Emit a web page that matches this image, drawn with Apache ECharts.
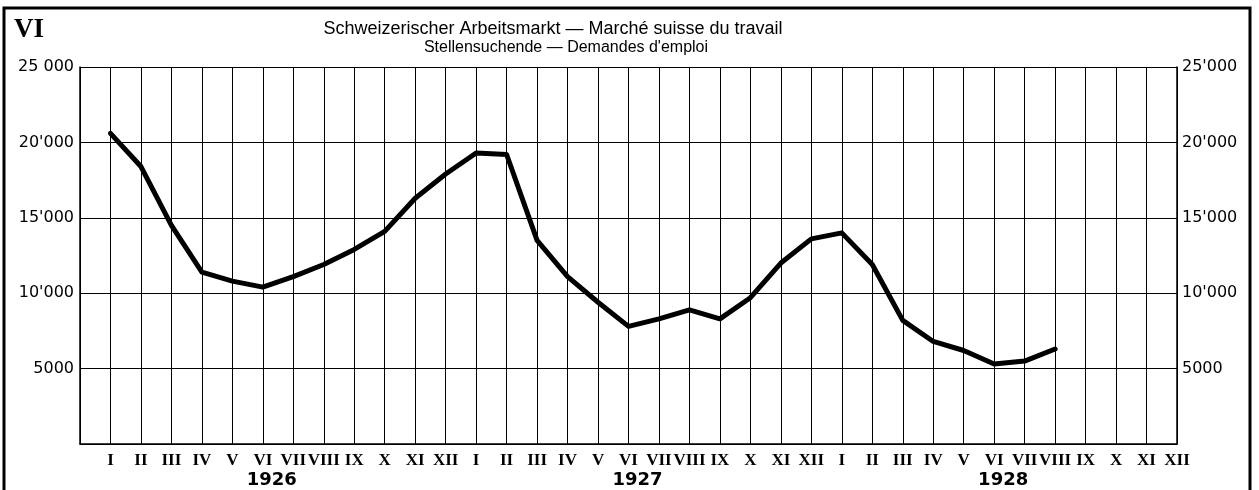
<!DOCTYPE html>
<html><head><meta charset="utf-8">
<script src="https://cdn.jsdelivr.net/npm/echarts@6/dist/echarts.min.js"></script>
<style>html,body{margin:0;padding:0;background:#fff}#c{width:1259px;height:490px}</style>
</head><body><div id="c"></div>
<script>
const months = ['I','II','III','IV','V','VI','VII','VIII','IX','X','XI','XII'];
const years = ['1926','1927','1928'];
const values1926 = [20600, 18400, 14500, 11400, 10800, 10400, 11100, 11900, 12900, 14100, 16300, 17900];
const values1927 = [19300, 19200, 13500, 11100, 9400, 7800, 8300, 8900, 8300, 9700, 12000, 13600];
const values1928 = [14000, 11900, 8200, 6800, 6200, 5300, 5500, 6300];
const leftTickLabels = ['', '5000', "10'000", "15'000", "20'000", '25 000'];
const rightTickLabels = ['', '5000', "10'000", "15'000", "20'000", "25'000"];
const titleText = 'Schweizerischer Arbeitsmarkt \u2014 Marché suisse du travail';
const subtitleText = "Stellensuchende \u2014 Demandes d'emploi";
const plateLabel = 'VI';

const categories = [''];
years.forEach(() => months.forEach(m => categories.push(m)));
const seriesData = [null].concat(values1926, values1927, values1928);

const chart = echarts.init(document.getElementById('c'), null, {renderer: 'canvas'});
const yLabelStyle = {fontFamily: 'DejaVu Sans', fontSize: 16, color: '#000', verticalAlign: 'middle', padding: [0, 0, 8, 0]};
chart.setOption({
  backgroundColor: '#fff',
  animation: false,
  title: [
    {text: titleText, left: 548, top: 15, textAlign: 'center',
     textStyle: {fontFamily: 'Liberation Sans', fontSize: 18, fontWeight: 'normal', color: '#000'}},
    {text: subtitleText, left: 561, top: 35, textAlign: 'center',
     textStyle: {fontFamily: 'Liberation Sans', fontSize: 16, fontWeight: 'normal', color: '#000'}}
  ],
  graphic: [
    {type: 'rect', shape: {x: 4, y: 8, width: 1246, height: 520}, style: {fill: 'none', stroke: '#000', lineWidth: 3}, silent: true},
    {type: 'text', left: 14, top: 17, style: {text: plateLabel, font: 'bold 27px "Liberation Serif"', fill: '#000'}}
  ],
  grid: {left: 80, right: 82, top: 67, bottom: 46, containLabel: false},
  xAxis: {
    type: 'category', data: categories, boundaryGap: false,
    axisLine: {show: true, lineStyle: {color: '#000', width: 1.5}},
    axisTick: {show: false},
    splitLine: {show: true, lineStyle: {color: '#000', width: 1}},
    axisLabel: {
      interval: 0, hideOverlap: false, margin: 8,
      formatter: (value, index) => {
        if (index === 0) return '';
        const mi = (index - 1) % 12, yi = Math.floor((index - 1) / 12);
        return mi === 5 ? '{m|' + value + '}\n{y|' + years[yi] + '}' : '{m|' + value + '}';
      },
      rich: {
        m: {fontFamily: 'Liberation Serif', fontWeight: 'bold', fontSize: 17, color: '#000', lineHeight: 18},
        y: {fontFamily: 'DejaVu Sans', fontWeight: 'bold', fontSize: 18, color: '#000', lineHeight: 21, padding: [0, 0, 0, 18]}
      }
    }
  },
  yAxis: [
    {type: 'value', min: 0, max: 25000, interval: 5000, position: 'left',
     axisLine: {show: true, lineStyle: {color: '#000', width: 1.5}}, axisTick: {show: false},
     splitLine: {show: true, lineStyle: {color: '#000', width: 1}},
     axisLabel: Object.assign({margin: 6, formatter: v => leftTickLabels[Math.round(v / 5000)]}, yLabelStyle)},
    {type: 'value', min: 0, max: 25000, interval: 5000, position: 'right',
     axisLine: {show: true, lineStyle: {color: '#000', width: 1.5}}, axisTick: {show: false},
     splitLine: {show: false},
     axisLabel: Object.assign({margin: 5, formatter: v => rightTickLabels[Math.round(v / 5000)]}, yLabelStyle)}
  ],
  series: [{
    type: 'line', data: seriesData, yAxisIndex: 0, showSymbol: false, symbol: 'none',
    lineStyle: {color: '#000', width: 5, join: 'round', cap: 'round'},
    connectNulls: false
  }]
});
</script></body></html>
